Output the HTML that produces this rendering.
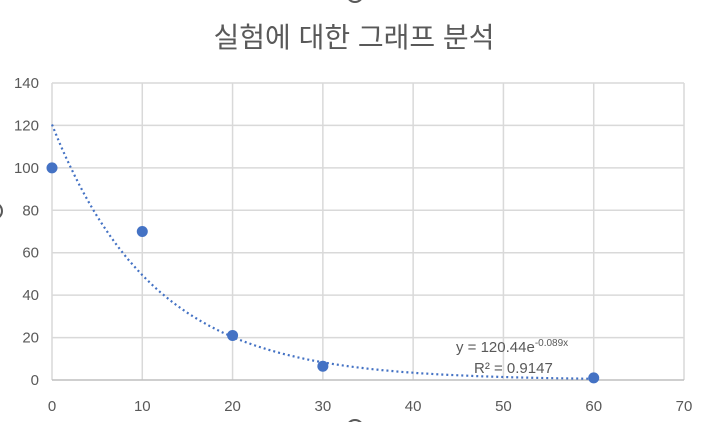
<!DOCTYPE html>
<html><head><meta charset="utf-8"><style>
body{margin:0;background:#fff;width:705px;height:422px;overflow:hidden}
text{font-family:"Liberation Sans","Noto Sans CJK KR",sans-serif;fill:#595959}
</style></head><body>
<svg id="c" width="705" height="422">
<text x="354" y="47" font-size="28" text-anchor="middle">실험에 대한 그래프 분석</text>
<g id="grid"></g><g id="trend"></g><g id="pts"></g>
<g>
<text x="456" y="352" font-size="15">y = 120.44e<tspan font-size="10" dy="-6">-0.089x</tspan></text>
<text x="474" y="373" font-size="15">R² = 0.9147</text>
</g>
<circle cx="355" cy="-6" r="8" fill="none" stroke="#595959" stroke-width="2"/>
<circle cx="-6" cy="211" r="8" fill="none" stroke="#595959" stroke-width="2"/>
<circle cx="355" cy="428" r="8" fill="none" stroke="#595959" stroke-width="2"/>
</svg>
<script>
const xTicks=[0,10,20,30,40,50,60,70];
const yTicks=[0,20,40,60,80,100,120,140];
const xVals=[0,10,20,30,60];
const yVals=[100,70,21,6.5,1];
const trendA=120.44, trendB=-0.089;
const X=v=>52+v*(632/70), Y=v=>380-v*(297/140);
const NS="http://www.w3.org/2000/svg";
function mk(p,t,a){const e=document.createElementNS(NS,t);for(const k in a)e.setAttribute(k,a[k]);document.getElementById(p).appendChild(e);return e;}
xTicks.forEach(t=>{
 const l=mk('grid','line',{x1:X(t),x2:X(t),y1:Y(140),y2:Y(0),stroke:'#d9d9d9','stroke-width':1.5});
 
 
 const tx=mk('grid','text',{x:X(t),y:411,'font-size':15,'text-anchor':'middle'});tx.textContent=t;
 
 
});
yTicks.forEach(t=>{
 const l=mk('grid','line',{x1:X(0),x2:X(70),y1:Y(t),y2:Y(t),stroke:t===0?'#bfbfbf':'#d9d9d9','stroke-width':1.5});
 
 
 const tx=mk('grid','text',{x:39,y:Y(t)+5,'font-size':15,'text-anchor':'end'});tx.textContent=t;
 
 
});
let d='';for(let x=0;x<=60;x+=0.5){d+=(x?'L':'M')+X(x).toFixed(1)+','+Y(trendA*Math.exp(trendB*x)).toFixed(1);}
const tp=mk('trend','path',{d:d,fill:'none',stroke:'#4472c4','stroke-width':2.2,'stroke-dasharray':'2 3'});


xVals.forEach((x,i)=>{
 const c=mk('pts','circle',{cx:X(x),cy:Y(yVals[i]),r:5.5,fill:'#4472c4'});
 
 
});
</script>
</body></html>
